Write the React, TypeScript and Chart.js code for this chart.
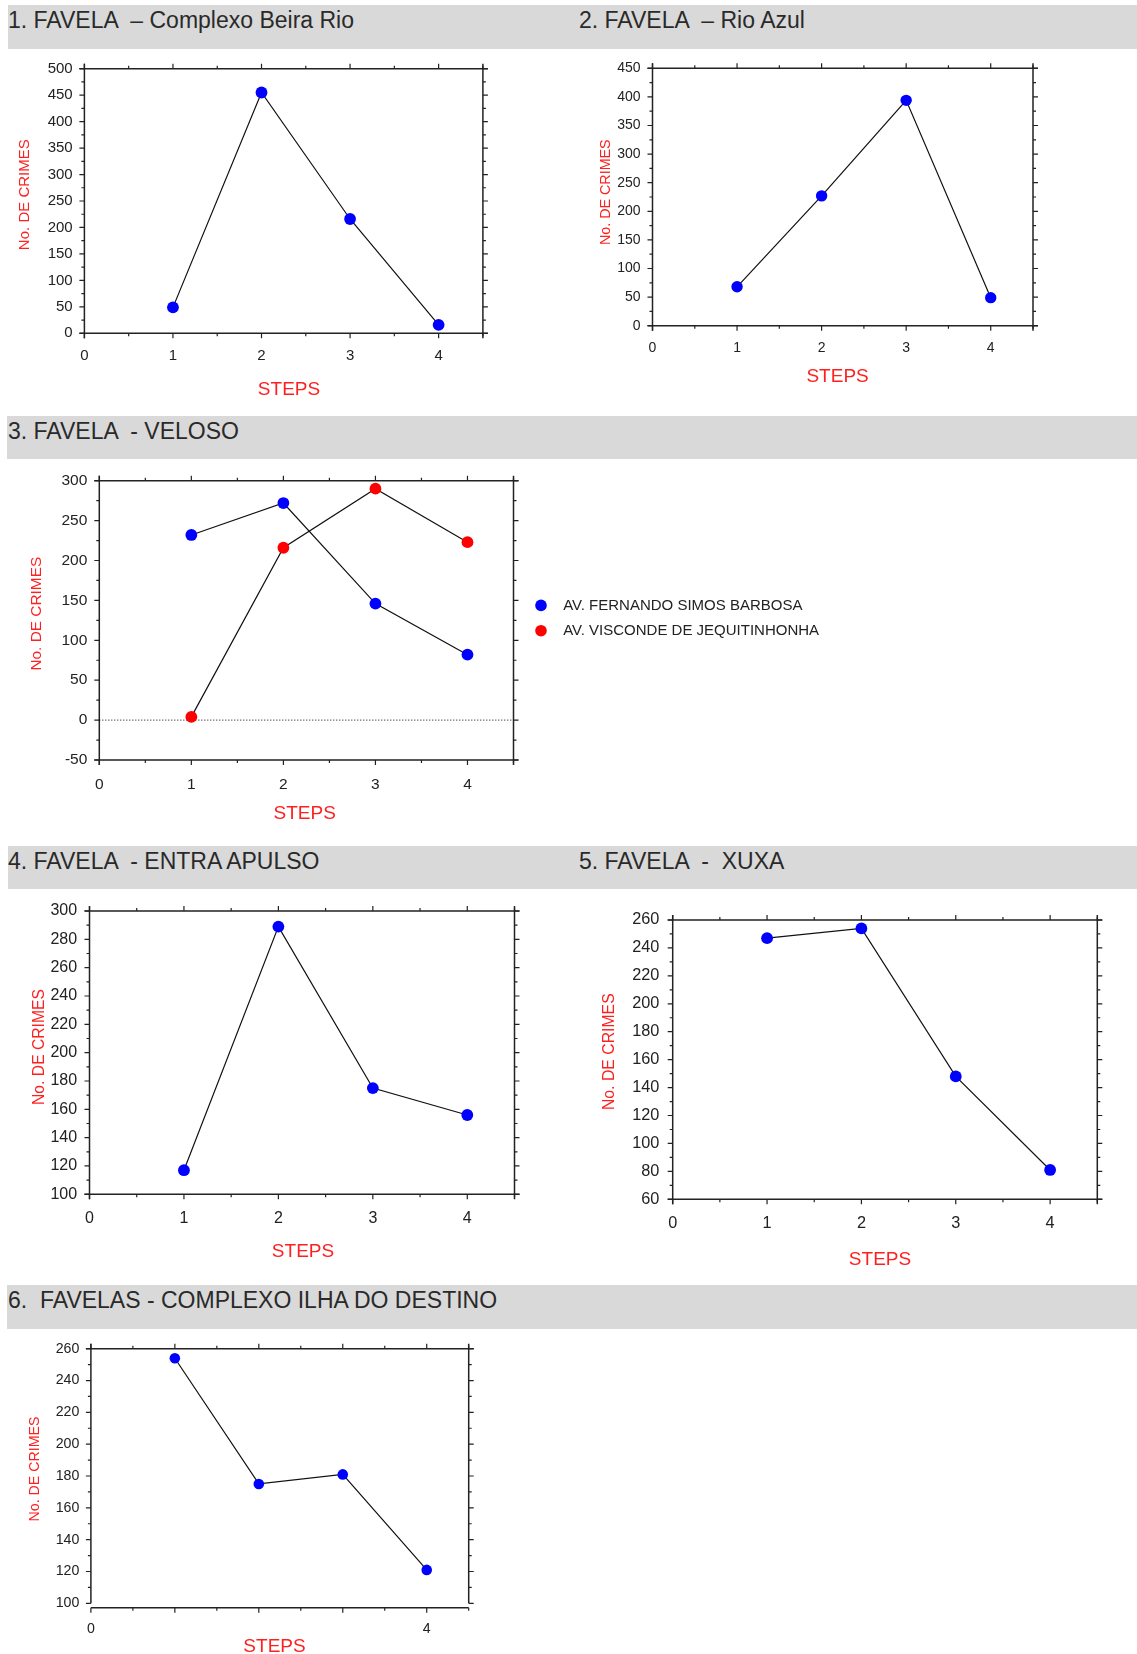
import React, { useEffect, useRef } from 'react';
import { Chart, registerables } from 'chart.js';

Chart.register(...registerables);

// ---------- data ----------
const STEPS_X = [1, 2, 3, 4];
const X_TICKS = [0, 1, 2, 3, 4];
const X_TICKS_SPARSE = [0, 4];

const BEIRA_RIO = [49, 455, 216, 16];
const RIO_AZUL = [68, 227, 394, 49];
const VELOSO_FERNANDO = [232, 272, 146, 82];
const VELOSO_VISCONDE = [4, 216, 290, 223];
const ENTRA_APULSO = [117, 289, 175, 156];
const XUXA = [247, 254, 148, 81];
const ILHA_DESTINO = [254, 175, 181, 121];

const Y_TICKS_BEIRA = [0, 50, 100, 150, 200, 250, 300, 350, 400, 450, 500];
const Y_TICKS_AZUL = [0, 50, 100, 150, 200, 250, 300, 350, 400, 450];
const Y_TICKS_VELOSO = [-50, 0, 50, 100, 150, 200, 250, 300];
const Y_TICKS_APULSO = [100, 120, 140, 160, 180, 200, 220, 240, 260, 280, 300];
const Y_TICKS_XUXA = [60, 80, 100, 120, 140, 160, 180, 200, 220, 240, 260];
const Y_TICKS_ILHA = [100, 120, 140, 160, 180, 200, 220, 240, 260];

const PANEL_TITLES = [
  '1. FAVELA  – Complexo Beira Rio',
  '2. FAVELA  – Rio Azul',
  '3. FAVELA  - VELOSO',
  '4. FAVELA  - ENTRA APULSO',
  '5. FAVELA  -  XUXA',
  '6.  FAVELAS - COMPLEXO ILHA DO DESTINO',
];
const SERIES_VELOSO = ['AV. FERNANDO SIMOS BARBOSA', 'AV. VISCONDE DE JEQUITINHONHA'];
const Y_TITLE = 'No. DE CRIMES';
const X_TITLE = 'STEPS';

// ---------- styles ----------
const FONT = '"Liberation Sans", Arial, Helvetica, sans-serif';
const RED_TEXT = '#ff1f1f';
const BLUE = '#0000ff';
const RED_DOT = '#ff0000';
const INK = '#222222';

Chart.defaults.font.family = FONT;

const framePlugin = {
  id: 'frame',
  beforeDatasetsDraw(chart: any, _args: any, opts: any) {
    const { ctx, chartArea: a, scales } = chart;
    const x = scales.x;
    const y = scales.y;
    const gap = opts.xAxisGap || 0;
    const major = 5;
    const minor = 3;
    const by = a.bottom + gap;
    ctx.save();
    ctx.strokeStyle = INK;
    ctx.lineWidth = 1.5;
    ctx.beginPath();
    ctx.moveTo(a.left - major, a.top);
    ctx.lineTo(a.right + major, a.top);
    ctx.moveTo(a.left - (gap ? 0 : major), by);
    ctx.lineTo(a.right + (gap ? 0 : major), by);
    ctx.moveTo(a.left, a.top - major);
    ctx.lineTo(a.left, a.bottom + (gap ? 0 : major));
    ctx.moveTo(a.right, a.top - major);
    ctx.lineTo(a.right, a.bottom + (gap ? 0 : major));
    ctx.stroke();

    ctx.lineWidth = 1.2;
    ctx.beginPath();
    const xs = opts.xMinor;
    for (let v = x.min; v <= x.max + 1e-9; v += xs) {
      const px = x.getPixelForValue(v);
      const len = Math.abs(v - Math.round(v)) < 1e-9 ? major : minor;
      ctx.moveTo(px, a.top);
      ctx.lineTo(px, a.top - len);
      ctx.moveTo(px, by);
      ctx.lineTo(px, by + len);
    }
    const majors = y.ticks.map((t: any) => t.value);
    const ys = opts.yMinor;
    for (let v = y.min; v <= y.max + 1e-9; v += ys) {
      const py = y.getPixelForValue(v);
      const isMajor = majors.some((m: number) => Math.abs(m - v) < 1e-6);
      const len = isMajor ? major : minor;
      ctx.moveTo(a.left, py);
      ctx.lineTo(a.left - len, py);
      ctx.moveTo(a.right, py);
      ctx.lineTo(a.right + len, py);
    }
    ctx.stroke();

    if (opts.zeroLine) {
      const py = y.getPixelForValue(0);
      ctx.setLineDash([1, 2]);
      ctx.lineWidth = 1;
      ctx.strokeStyle = '#000';
      ctx.beginPath();
      ctx.moveTo(a.left, py);
      ctx.lineTo(a.right, py);
      ctx.stroke();
    }
    ctx.restore();
  },
};

const axisTitlesPlugin = {
  id: 'axisTitles',
  afterDraw(chart: any, _args: any, opts: any) {
    const { ctx } = chart;
    ctx.save();
    ctx.fillStyle = RED_TEXT;
    ctx.textAlign = 'center';
    ctx.textBaseline = 'middle';
    ctx.font = `${opts.xSize}px ${FONT}`;
    ctx.fillText(opts.xText, opts.xX, opts.xY);
    ctx.translate(opts.yX, opts.yY);
    ctx.rotate(-Math.PI / 2);
    ctx.font = `${opts.ySize}px ${FONT}`;
    ctx.fillText(opts.yText, 0, 0);
    ctx.restore();
  },
};

const sideLegendPlugin = {
  id: 'sideLegend',
  afterDraw(chart: any, _args: any, opts: any) {
    if (!opts || !opts.display) return;
    const { ctx, chartArea: a } = chart;
    const ds = chart.data.datasets;
    const cy = (a.top + a.bottom) / 2 + opts.offsetY;
    ctx.save();
    ds.forEach((d: any, i: number) => {
      const yy = cy + (i - (ds.length - 1) / 2) * opts.spacing;
      ctx.fillStyle = d.pointBackgroundColor;
      ctx.beginPath();
      ctx.arc(a.right + opts.dotX, yy, opts.r, 0, Math.PI * 2);
      ctx.fill();
      ctx.fillStyle = INK;
      ctx.font = `${opts.fontSize}px ${FONT}`;
      ctx.textBaseline = 'middle';
      ctx.textAlign = 'left';
      ctx.fillText(d.label, a.right + opts.textX, yy);
    });
    ctx.restore();
  },
};

type Series = { label: string; values: number[]; color: string };
type PanelSpec = {
  series: Series[];
  yTicks: number[];
  yMinor: number;
  xTicks: number[];
  xMax: number;
  area: number[];
  yTitleX: number;
  yTitleY: number;
  yTitleSize: number;
  xTitleX: number;
  xTitleY: number;
  xTitleSize: number;
  tickSize: number;
  xLabelOffset: number;
  yLabelGap: number;
  pointRadius: number;
  xAxisGap?: number;
  zeroLine?: boolean;
  legend?: boolean;
  extraRight?: number;
};

const PANELS: PanelSpec[] = [
  {
    series: [{ label: PANEL_TITLES[0], values: BEIRA_RIO, color: BLUE }],
    yTicks: Y_TICKS_BEIRA, yMinor: 25, xTicks: X_TICKS, xMax: 4.5,
    area: [84.4, 68.7, 482.9, 333.3],
    yTitleX: 24.7, yTitleY: 194.7, yTitleSize: 15,
    xTitleX: 289, xTitleY: 390, xTitleSize: 19,
    tickSize: 15, xLabelOffset: 22.7, yLabelGap: 11.7, pointRadius: 5.9,
  },
  {
    series: [{ label: PANEL_TITLES[1], values: RIO_AZUL, color: BLUE }],
    yTicks: Y_TICKS_AZUL, yMinor: 25, xTicks: X_TICKS, xMax: 4.5,
    area: [652.5, 68.3, 1033, 325.7],
    yTitleX: 606, yTitleY: 192.2, yTitleSize: 14.3,
    xTitleX: 837.6, xTitleY: 376.7, xTitleSize: 19,
    tickSize: 14, xLabelOffset: 22.3, yLabelGap: 12, pointRadius: 5.7,
  },
  {
    series: [
      { label: SERIES_VELOSO[0], values: VELOSO_FERNANDO, color: BLUE },
      { label: SERIES_VELOSO[1], values: VELOSO_VISCONDE, color: RED_DOT },
    ],
    yTicks: Y_TICKS_VELOSO, yMinor: 25, xTicks: X_TICKS, xMax: 4.5,
    area: [99.3, 480.7, 513.5, 760],
    yTitleX: 36.4, yTitleY: 613.7, yTitleSize: 15.4,
    xTitleX: 304.7, xTitleY: 813.3, xTitleSize: 19,
    tickSize: 15.5, xLabelOffset: 25, yLabelGap: 12, pointRadius: 5.9,
    zeroLine: true, legend: true, extraRight: 320,
  },
  {
    series: [{ label: PANEL_TITLES[3], values: ENTRA_APULSO, color: BLUE }],
    yTicks: Y_TICKS_APULSO, yMinor: 10, xTicks: X_TICKS, xMax: 4.5,
    area: [89.5, 911, 514.5, 1194.3],
    yTitleX: 39.3, yTitleY: 1047, yTitleSize: 15.7,
    xTitleX: 303, xTitleY: 1251.7, xTitleSize: 19,
    tickSize: 16, xLabelOffset: 24, yLabelGap: 12.4, pointRadius: 5.9,
  },
  {
    series: [{ label: PANEL_TITLES[4], values: XUXA, color: BLUE }],
    yTicks: Y_TICKS_XUXA, yMinor: 10, xTicks: X_TICKS, xMax: 4.5,
    area: [672.7, 920, 1097.3, 1199.3],
    yTitleX: 609.8, yTitleY: 1051.7, yTitleSize: 15.8,
    xTitleX: 880, xTitleY: 1259.3, xTitleSize: 19,
    tickSize: 16.3, xLabelOffset: 24.7, yLabelGap: 13.4, pointRadius: 5.9,
  },
  {
    series: [{ label: PANEL_TITLES[5], values: ILHA_DESTINO, color: BLUE }],
    yTicks: Y_TICKS_ILHA, yMinor: 10, xTicks: X_TICKS_SPARSE, xMax: 4.5,
    area: [90.9, 1348.7, 468.7, 1603.3],
    yTitleX: 35.3, yTitleY: 1469, yTitleSize: 14.2,
    xTitleX: 274.5, xTitleY: 1646.7, xTitleSize: 19,
    tickSize: 14.2, xLabelOffset: 26, yLabelGap: 11.6, pointRadius: 5.3,
    xAxisGap: 4.4,
  },
];

const BARS = [
  { top: 5, height: 43.7, left: 8, titles: [{ x: 8, i: 0 }, { x: 579, i: 1 }] },
  { top: 416, height: 43.3, left: 7, titles: [{ x: 8, i: 2 }] },
  { top: 846, height: 43.3, left: 8, titles: [{ x: 8, i: 3 }, { x: 579, i: 4 }] },
  { top: 1285, height: 44, left: 7, titles: [{ x: 8, i: 5 }] },
];

function computeLayout(spec: PanelSpec) {
  const left = Math.floor(spec.yTitleX - spec.yTitleSize);
  const top = Math.floor(spec.area[1] - 30);
  const right = Math.ceil(spec.area[2] + (spec.extraRight ?? 14));
  const bottom = Math.ceil(spec.xTitleY + spec.xTitleSize);
  return {
    left,
    top,
    width: right - left,
    height: bottom - top,
    padding: {
      left: 0,
      top: spec.area[1] - top,
      right: right - spec.area[2],
      bottom: 0,
    },
    yWidth: spec.area[0] - left,
    xHeight: bottom - spec.area[3],
  };
}

function PanelChart({ spec }: { spec: PanelSpec }) {
  const ref = useRef<HTMLCanvasElement>(null);
  const L = computeLayout(spec);
  useEffect(() => {
    const canvas = ref.current;
    if (!canvas) return;
    const chart = new Chart(canvas, {
      type: 'line',
      data: {
        datasets: spec.series.map((s) => ({
          label: s.label,
          data: STEPS_X.map((x, i) => ({ x, y: s.values[i] })),
          borderColor: '#111',
          borderWidth: 1.2,
          tension: 0,
          fill: false,
          pointRadius: spec.pointRadius,
          pointHoverRadius: spec.pointRadius,
          pointBackgroundColor: s.color,
          pointBorderColor: s.color,
          pointBorderWidth: 0,
        })),
      },
      options: {
        responsive: false,
        animation: false,
        devicePixelRatio: 1,
        events: [],
        layout: { padding: L.padding },
        plugins: {
          legend: { display: false },
          tooltip: { enabled: false },
          frame: {
            xMinor: 0.5,
            yMinor: spec.yMinor,
            xAxisGap: spec.xAxisGap || 0,
            zeroLine: !!spec.zeroLine,
          },
          axisTitles: {
            xText: X_TITLE,
            xSize: spec.xTitleSize,
            xX: spec.xTitleX - L.left,
            xY: spec.xTitleY - L.top,
            yText: Y_TITLE,
            ySize: spec.yTitleSize,
            yX: spec.yTitleX - L.left,
            yY: spec.yTitleY - L.top,
          },
          sideLegend: {
            display: !!spec.legend,
            offsetY: -2.3,
            spacing: 25.3,
            dotX: 27.5,
            textX: 49.7,
            r: 5.8,
            fontSize: 15,
          },
        } as any,
        scales: {
          x: {
            type: 'linear',
            min: 0,
            max: spec.xMax,
            afterBuildTicks: (s: any) => {
              s.ticks = spec.xTicks.map((v) => ({ value: v }));
            },
            afterFit: (s: any) => {
              s.height = L.xHeight;
            },
            grid: { display: false, drawTicks: false },
            border: { display: false },
            ticks: {
              padding: spec.xLabelOffset - spec.tickSize * 0.6,
              color: INK,
              font: { size: spec.tickSize },
              maxRotation: 0,
              autoSkip: false,
              callback: (v: any) => String(v),
            },
            title: { display: false },
          },
          y: {
            type: 'linear',
            min: spec.yTicks[0],
            max: spec.yTicks[spec.yTicks.length - 1],
            afterBuildTicks: (s: any) => {
              s.ticks = spec.yTicks.map((v) => ({ value: v }));
            },
            afterFit: (s: any) => {
              s.width = L.yWidth;
            },
            grid: { display: false, drawTicks: false },
            border: { display: false },
            ticks: {
              padding: spec.yLabelGap,
              color: INK,
              font: { size: spec.tickSize },
              callback: (v: any) => String(v),
            },
            title: { display: false },
          },
        },
      } as any,
      plugins: [framePlugin, axisTitlesPlugin, sideLegendPlugin],
    });
    return () => chart.destroy();
  }, []);
  return (
    <canvas
      ref={ref}
      width={L.width}
      height={L.height}
      style={{ position: 'absolute', left: L.left, top: L.top, width: L.width, height: L.height }}
    />
  );
}

export default function App() {
  return (
    <div
      style={{
        position: 'absolute',
        left: 0,
        top: 0,
        width: 1137,
        height: 1654,
        overflow: 'hidden',
        background: '#ffffff',
        fontFamily: FONT,
      }}
    >
      {BARS.map((b, bi) => (
        <div
          key={'bar' + bi}
          style={{
            position: 'absolute',
            left: b.left,
            top: b.top,
            width: 1137 - b.left,
            height: b.height,
            background: '#d9d9d9',
          }}
        />
      ))}
      {BARS.map((b, bi) =>
        b.titles.map((t) => (
          <div
            key={'t' + bi + '-' + t.i}
            style={{
              position: 'absolute',
              left: t.x,
              top: b.top + 4,
              fontSize: 23,
              lineHeight: '23px',
              color: '#2a2a2a',
              whiteSpace: 'pre',
            }}
          >
            {PANEL_TITLES[t.i]}
          </div>
        ))
      )}
      {PANELS.map((p, i) => (
        <PanelChart key={'p' + i} spec={p} />
      ))}
    </div>
  );
}
